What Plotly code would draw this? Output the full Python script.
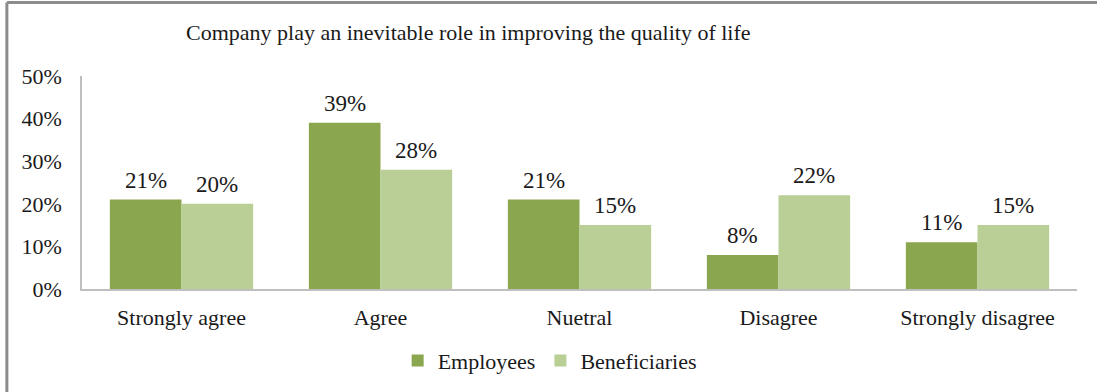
import plotly.graph_objects as go

categories = ["Strongly agree", "Agree", "Nuetral", "Disagree", "Strongly disagree"]
employees = [21, 39, 21, 8, 11]
beneficiaries = [20, 28, 15, 22, 15]
y_ticks = [0, 10, 20, 30, 40, 50]
y_tick_labels = [f"{v}%" for v in y_ticks]

FONT = "Liberation Serif, Times New Roman, serif"
TEXT_COLOR = "#1a1a1a"

PLOT_W = 1097 - 82 - 20
BARGAP = 0.28
HALF_BAR = PLOT_W / len(categories) * (1 - BARGAP) / 4  # half of one bar's width

fig = go.Figure()
fig.add_trace(go.Bar(
    name="Employees", x=categories, y=employees,
    marker=dict(color="#8aa64f", line=dict(width=0)),
))
fig.add_trace(go.Bar(
    name="Beneficiaries", x=categories, y=beneficiaries,
    marker=dict(color="#b9cf96", line=dict(width=0)),
))

# value labels above each bar
labels = []
for series, shift in ((employees, -HALF_BAR), (beneficiaries, HALF_BAR)):
    for cat, v in zip(categories, series):
        labels.append(dict(
            x=cat, y=v, xref="x", yref="y", text=f"{v}%",
            xshift=shift, yshift=5, xanchor="center", yanchor="bottom",
            showarrow=False, font=dict(family=FONT, size=23, color=TEXT_COLOR),
        ))

labels.append(dict(
    text="Company play an inevitable role in improving the quality of life",
    xref="paper", yref="paper", x=0.388, y=1.205,
    xanchor="center", yanchor="middle", showarrow=False,
    font=dict(family=FONT, size=22, color=TEXT_COLOR),
))

fig.update_layout(
    width=1097, height=392,
    margin=dict(l=82, r=20, t=76, b=102),
    paper_bgcolor="white", plot_bgcolor="white",
    barmode="group", bargap=BARGAP, bargroupgap=0,
    font=dict(family=FONT, size=22, color=TEXT_COLOR),
    showlegend=True,
    legend=dict(
        orientation="h", x=0.47, xanchor="center", y=-0.33, yanchor="middle",
        font=dict(family=FONT, size=22, color=TEXT_COLOR),
        itemwidth=30, traceorder="normal",
    ),
    xaxis=dict(
        showgrid=False, showline=True, linecolor="#bfbfbf", linewidth=1.5,
        ticks="", ticklabelstandoff=8,
        tickfont=dict(family=FONT, size=22, color=TEXT_COLOR),
    ),
    yaxis=dict(
        range=[0, 50], tickvals=y_ticks, ticktext=y_tick_labels,
        showgrid=False, showline=True, linecolor="#bfbfbf", linewidth=1.5,
        ticks="", ticklabelstandoff=14, zeroline=False,
        tickfont=dict(family=FONT, size=22, color=TEXT_COLOR),
    ),
    annotations=labels,
    shapes=[
        dict(type="line", xref="paper", yref="paper",
             x0=-0.0755, x1=1.1, y0=1.345, y1=1.345,
             line=dict(color="#8c8c8c", width=3)),
        dict(type="line", xref="paper", yref="paper",
             x0=-0.0755, x1=-0.0755, y0=1.345, y1=-0.6,
             line=dict(color="#8c8c8c", width=3)),
    ],
)

fig.write_html("out.html")
